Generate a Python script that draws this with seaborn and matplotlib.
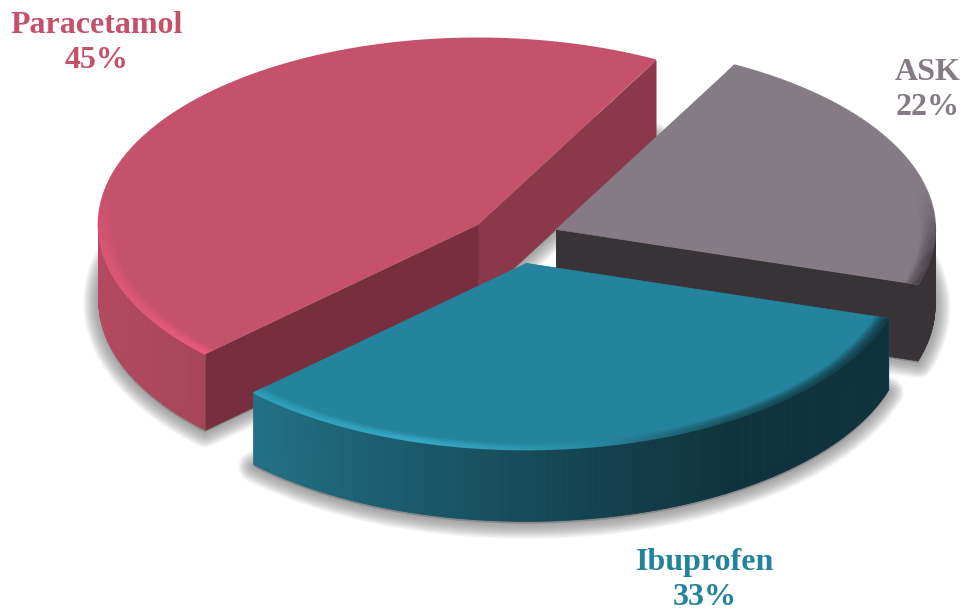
import numpy as np
import matplotlib
matplotlib.use("Agg")
import matplotlib.pyplot as plt
import seaborn as sns
from matplotlib.collections import LineCollection, PolyCollection
from matplotlib.colors import to_rgb
from matplotlib.patches import Wedge

# data
drugs = ["Paracetamol", "Ibuprofen", "ASK"]
shares = [45, 33, 22]

# colours per slice
top_colors = ["#C5516B", "#25849D", "#857B84"]
text_colors = ["#C5506A", "#24839C", "#857B84"]
side_stops = [["#B34A61", "#A64558"],
              ["#237086", "#1A5A6A", "#144552", "#0F333D", "#0F333D"],
              ["#383337", "#383337"]]
rim_stops = [["#DB5873", "#EB5C7B"],
             ["#2F9DBA", "#38ABCA", "#2A8FA9", "#17505E", "#123A45"],
             ["#4A444A", "#4A444A"]]
cut_colors = [("#8C384C", "#772F40"), ("#1A5A6A", "#1A5A6A"), ("#383337", "#383337")]

# how the flat pie is laid out on the 964x612 canvas
WIDTH, HEIGHT = 964, 612
CX, CY = 514, 238
RX, RY = 379, 186
depth_px = [76, 72, 76]
layer = [10, 30, 20]
explode = [0.12, 0.14, 0.12]

sns.set_theme(style="white")
fig = plt.figure(figsize=(WIDTH / 100, HEIGHT / 100), dpi=100)
ax = fig.add_axes([0, 0, 1, 1])
wedges, _ = ax.pie(shares, explode=explode, colors=top_colors, startangle=62, radius=1,
                   wedgeprops={"linewidth": 0})
ax.set_aspect("auto")
ax.set_xlim(-CX / RX, (WIDTH - CX) / RX)
ax.set_ylim(-(HEIGHT - CY) / RY, CY / RY)
ax.axis("off")


def arc(w, scale=1.0, n=240):
    th = np.radians(np.linspace(w.theta1, w.theta2, n))
    return w.center[0] + w.r * scale * np.cos(th), w.center[1] + w.r * scale * np.sin(th), th


def shade(stops, t):
    pal = np.array(sns.blend_palette(stops, n_colors=256))
    return pal[np.clip((t * 255).astype(int), 0, 255)]


# soft shadow below the base of every slice
for w, d in zip(wedges, depth_px):
    base = (w.center[0], w.center[1] - d / RY - 0.012)
    for lw in np.linspace(22, 3, 12):
        ax.add_patch(Wedge(base, w.r, w.theta1, w.theta2, facecolor="#7a7a7a", edgecolor="#7a7a7a",
                           lw=lw, alpha=0.075, joinstyle="round", zorder=1))

for i, w in enumerate(wedges):
    drop = depth_px[i] / RY
    z = layer[i]
    cx, cy = w.center
    x, y, th = arc(w)

    # cut faces
    for (px, py), col in zip([(x[0], y[0]), (x[-1], y[-1])], cut_colors[i]):
        ax.add_collection(PolyCollection(
            [[(cx, cy), (px, py), (px, py - drop), (cx, cy - drop)]],
            facecolors=col, edgecolors=col, lw=0.5, zorder=z))

    # outer wall, shaded from left to right
    front = np.sin(th) <= 0.02
    cos = np.cos(th)
    t = (cos - cos[front].min()) / max(cos[front].max() - cos[front].min(), 1e-6)
    wall = shade(side_stops[i], t)
    quads = []
    cols = []
    for k in range(len(x) - 1):
        if front[k]:
            quads.append([(x[k], y[k]), (x[k + 1], y[k + 1]), (x[k + 1], y[k + 1] - drop), (x[k], y[k] - drop)])
            cols.append(wall[k])
    ax.add_collection(PolyCollection(quads, facecolors=cols, edgecolors=cols, lw=0.6, zorder=z + 1))

    # top face comes from ax.pie
    w.set_zorder(z + 2)
    w.set_edgecolor(top_colors[i])
    w.set_linewidth(0.4)

    # bevel along the rim
    rim = shade(rim_stops[i], t)
    fade = np.clip((0.2 - np.sin(th)) / 0.35, 0, 1)
    top = np.array(to_rgb(top_colors[i]))
    for f in np.linspace(0, 1, 11):
        xr, yr, _ = arc(w, 1 - 0.04 * f)
        segs = np.stack([np.column_stack([xr[:-1], yr[:-1]]), np.column_stack([xr[1:], yr[1:]])], axis=1)
        mix = rim[:-1] * (1 - f ** 1.6) + top * f ** 1.6
        mix = top + (mix - top) * fade[:-1, None]
        ax.add_collection(LineCollection(segs, colors=mix, lw=1.5, zorder=z + 3, capstyle="butt"))

# labels
label_pos = [(97, 43), (705, 580), (928, 90)]
for name, val, col, (px, py) in zip(drugs, shares, text_colors, label_pos):
    fig.text(px / WIDTH, 1 - py / HEIGHT, f"{name}\n{val}%", color=col, ha="center", va="center",
             family="Liberation Serif", weight="bold", fontsize=23, linespacing=1.3)

fig.savefig("out.png", dpi=100)
